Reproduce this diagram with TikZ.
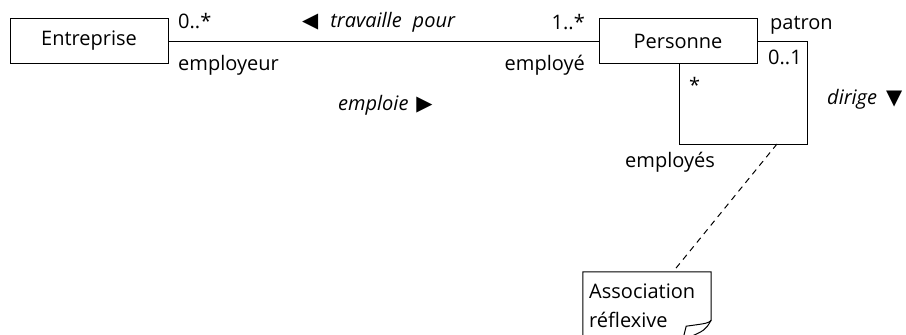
\documentclass[tikz,border=0pt]{standalone}
\usepackage{fontspec}
\setmainfont{Open Sans}
\newfontfamily\symfont{DejaVu Sans}
\newcommand{\dirmark}[1]{{\symfont\fontsize{21}{24}\selectfont #1}}
\begin{document}
\begin{tikzpicture}[x=1pt,y=-1pt,
  every node/.style={font=\fontsize{20}{24}\selectfont},
  cls/.style={draw, line width=1pt, minimum width=158pt, minimum height=45pt, inner sep=0pt},
  lbl/.style={inner sep=0pt},
  link/.style={line width=1pt},
  notelink/.style={line width=1pt, dash pattern=on 6pt off 5pt}]
\useasboundingbox (0,0) rectangle (906,335);

% classes
\node[cls] (ent) at (89,41) {Entreprise};
\node[cls] (per) at (678,41) {Personne};

% association between the two classes
\draw[link] (ent.east) -- (per.west);

% reflexive association on Personne
\coordinate (lr) at (807,144);
\coordinate (ll) at (679,144);
\draw[link] (per.east) -| (lr) -- (ll) -- (per.south -| ll);

% role names and multiplicities
\node[lbl, anchor=base west] (m1) at (178,28) {0..*};
\node[lbl, anchor=base west] (r1) at (178,70) {employeur};
\node[lbl, anchor=base east] (m2) at (585,29) {1..*};
\node[lbl, anchor=base east] (r2) at (585,70) {employé};
\node[lbl, anchor=base west] (r3) at (770,29) {patron};
\node[lbl, anchor=base west] (m3) at (768,64) {0..1};
\node[lbl, anchor=base west] (m4) at (689,92) {*};
\node[lbl, anchor=base west] (r4) at (625,167) {employés};

% association names with reading direction
\node[lbl, anchor=base west] (n1) at (302,27) {\dirmark{◀}\hspace{12pt}\textit{travaille\hspace{11pt}pour}};
\node[lbl, anchor=base west] (n2) at (338,110) {\textit{emploie}\hspace{8pt}\dirmark{▶}};
\node[lbl, anchor=base west] (n3) at (827,104) {\textit{dirige}\hspace{9pt}\dirmark{▼}};

% note with folded corner
\node[inner sep=0pt, minimum width=128pt, minimum height=66pt] (note) at (647,305) {};
\node[lbl, anchor=base west, align=left, font=\fontsize{20}{29}\selectfont] (notetext) at (589,327) {Association\\réflexive};
\coordinate (fold) at ([yshift=18pt]note.south east);
\draw[line width=1pt] (note.south west) -- (note.north west) -- (note.north east) -- (fold)
  .. controls ([xshift=-6pt,yshift=-10pt]fold) .. ([xshift=-24pt]note.south east);
\draw[line width=1pt] (fold) .. controls ([xshift=-3pt,yshift=-3pt]fold) .. ([xshift=-25pt,yshift=-6pt]fold) -- ([xshift=-28pt]note.south east);

\coordinate (loopanchor) at (777,144);
\draw[notelink] (loopanchor) -- ([xshift=26pt]note.north);
\end{tikzpicture}
\end{document}
